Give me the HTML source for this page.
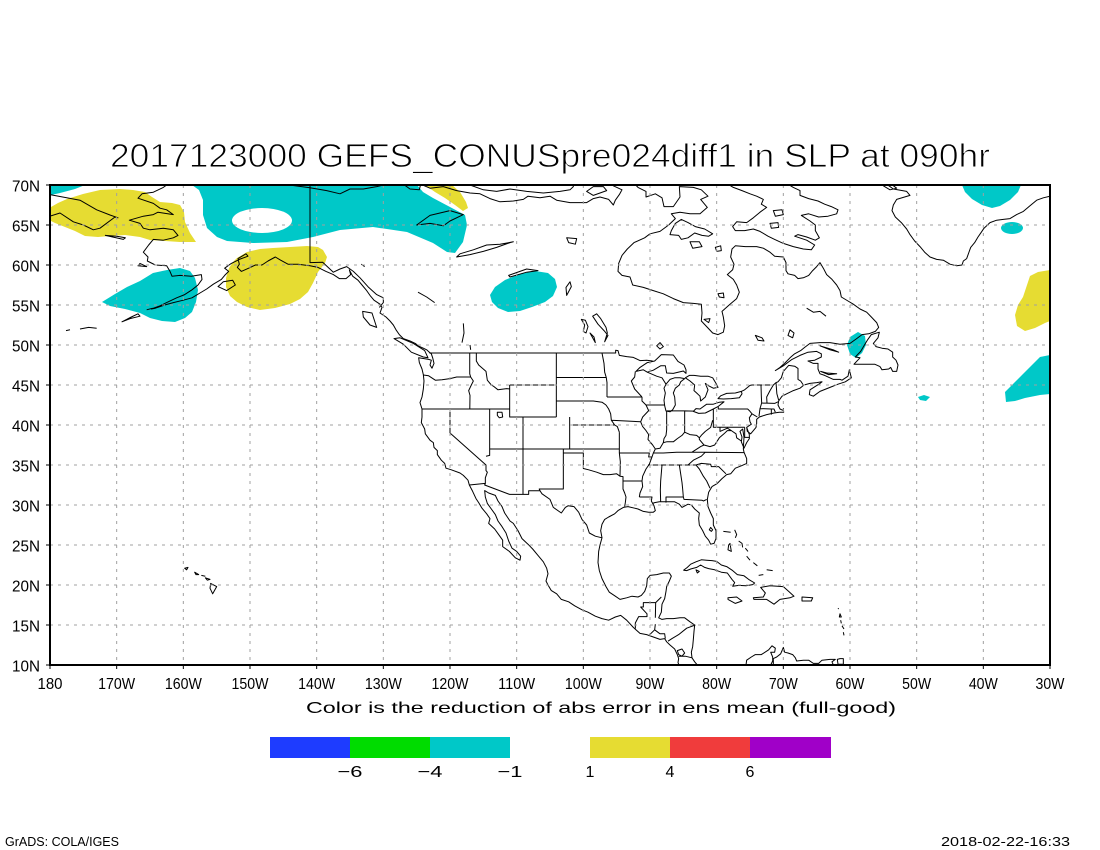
<!DOCTYPE html>
<html><head><meta charset="utf-8"><style>
html,body{margin:0;padding:0;background:#fff;}
svg{display:block;}
.m path{vector-effect:non-scaling-stroke;}
text{font-family:"Liberation Sans",sans-serif;fill:#000;}
</style></head><body>
<svg width="1100" height="850" viewBox="0 0 1100 850" xmlns="http://www.w3.org/2000/svg">
<defs><clipPath id="c"><rect x="50" y="185" width="1000" height="480"/></clipPath></defs>
<rect x="0" y="0" width="1100" height="850" fill="#fff"/>
<text x="110" y="167" font-size="33" textLength="880" lengthAdjust="spacingAndGlyphs" stroke="#fff" stroke-width="0.9">2017123000 GEFS_CONUSpre024diff1 in SLP at 090hr</text>
<g clip-path="url(#c)">
<g fill="#00c8c8">
<polygon points="51,185 85,185 75,189 60,193 51,195"/>
<polygon points="192,185 417,185 423,192 433,198 450,207 465,215 467,225 463,242 455,253 447,252 433,243 407,232 373,227 340,230 313,237 287,242 253,243 227,241 217,237 207,228 203,215 203,200 199,190"/>
<polygon points="102,302 115,294 127,287 140,281 153,273 167,270 180,268 190,271 195,278 198,290 196,302 192,312 185,318 175,322 162,321 150,318 140,313 125,309 110,306"/>
<polygon points="490,295 495,287 505,280 520,274 535,271 548,273 555,279 557,287 553,296 545,302 532,307 520,311 508,312 498,308 492,302"/>
<polygon points="962,185 1021,185 1018,192 1010,200 1000,206 992,208 982,205 972,199 965,192"/>
<ellipse cx="1012" cy="228" rx="11" ry="6"/>
<polygon points="1050,355 1040,357 1032,365 1022,375 1012,385 1005,392 1006,402 1015,401 1025,398 1040,395 1050,394"/>
<polygon points="858,332 865,336 866,345 862,353 856,358 850,354 847,345 850,337"/>
<polygon points="918,397 924,395 930,397 926,401 920,400"/>
</g>
<ellipse cx="262" cy="220.5" rx="30" ry="12.5" fill="#fff"/>
<g fill="#e6dc32">
<polygon points="51,207 58,203 67,199 83,194 100,190 120,189 133,190 145,192 152,197 160,202 172,203 180,205 184,212 185,222 190,233 196,242 180,242 165,241 150,240 140,237 125,235 110,236 98,237 85,236 75,231 65,227 55,223 51,221"/>
<polygon points="425,185 452,185 460,192 466,202 468,208 463,211 455,205 445,198 435,192"/>
<polygon points="237,258 247,252 260,249 273,248 290,247 307,246 318,247 323,250 327,257 325,263 318,272 313,283 308,292 300,299 290,304 275,308 260,310 247,307 237,302 230,296 226,287 226,278 229,268 233,262"/>
<polygon points="1050,270 1038,272 1030,276 1027,285 1023,297 1018,305 1015,315 1017,326 1025,331 1035,328 1045,323 1050,321"/>
</g>
<g class="m" transform="matrix(6.66667 0 0 -8 1250 745)" fill="none" stroke="#000" stroke-width="1" stroke-linejoin="round">
<path d="M-180 68.8 L-179.7 68.75 L-177.5 68.4 L-175.5 68.1 L-173 66.9 L-171 66.25 L-169.8 65.9 L-170.25 66 L-172.5 64.6 L-173.5 64.4 L-175 65 L-176.5 65.4 L-178.5 66.5 L-180 66.1"/>
<path d="M-171.7 63.7 L-169 63.2 L-168.7 63.4 L-170 63.6 Z M-166.5 60.2 L-165.5 59.8 L-166.8 59.9 Z"/>
<path d="M-162 70.3 L-163 69.7 L-164.5 69.1 L-166.2 68.9 L-166.8 68.35 L-164.5 67.7 L-163.5 67.1 L-162.5 66.9 L-161.5 66.3 L-163.8 66.6 L-164.5 66.3 L-166 66.1 L-168.1 65.6 L-166.5 65.2 L-166 64.6 L-165 64.4 L-163 64.6 L-161.5 64.4 L-160.8 63.7 L-161.5 63.4 L-163 63.1 L-164.5 63.2 L-165.2 62.5 L-166 61.6 L-165.3 61 L-165.4 60.5 L-164.2 60 L-162.5 59.9 L-162 59.2 L-161.7 58.6 L-160.5 58.7 L-158.8 58.6 L-157.3 58.8 L-157.2 58.2 L-157.8 57.5 L-158.7 56.9 L-159.8 56.3 L-161 55.9 L-162.5 55.3 L-163.5 54.9 L-164.8 54.5 L-164.2 54.6 L-162.8 55 L-161.5 55.3 L-160 55.6 L-158.7 55.9 L-157.5 56.5 L-156.5 57 L-155.5 57.6 L-154.3 58.2 L-153.8 58.7 L-153.2 59.2 L-153.8 59.6 L-152.8 60.2 L-151.6 60.7 L-150.3 61.1 L-150.6 61.4 L-151.8 60.8 L-151.6 60.1 L-151.9 59.7 L-151.3 59.2 L-150.2 59.6 L-149.2 60 L-148.2 60 L-147.3 60.5 L-146.2 61 L-145.4 60.6 L-144.3 60.1 L-142.8 60.1 L-141 59.9 L-139.8 59.7 L-138.6 59.2 L-137.5 58.8 L-136.6 58.3 L-135.6 58.3 L-134.9 58.8 L-135.1 59.4 L-134.6 58.6 L-133.8 58.1 L-133.2 57.5 L-132.5 56.8 L-132 56.2 L-131.4 55.6 L-130.5 55.1 L-130.2 54.7 L-130.5 54 L-129.6 53.5 L-129 53 L-128.5 52.5 L-128.1 51.9 L-127.6 51.3 L-127 50.8 L-126 50.5 L-125.2 50.2 L-124.8 49.9 L-124 49.6 L-123.5 49.4 L-123.1 49.1 L-122.8 48.9 L-122.6 48.4 L-122.4 47.7 L-122.7 47.1 L-123 47.5 L-122.8 48.1 L-123.2 48.2 L-124.7 48.4 L-124.6 47.8 L-124.2 47 L-124 46.3 L-123.9 45.5 L-124 44.5 L-124.2 43.5 L-124.5 42.8 L-124.2 42 L-124.2 41 L-124.3 40.3 L-123.8 39.5 L-123.7 38.9 L-123 38.1 L-122.5 37.8 L-122.4 37.2 L-121.9 36.8 L-121.9 36.3 L-121.3 35.6 L-120.8 35.2 L-120.6 34.6 L-119.8 34.4 L-118.5 34 L-118 33.7 L-117.3 33.1 L-117.1 32.5 L-116.6 31.7 L-116.1 30.8 L-115.7 30.3 L-115.2 29.6 L-114.5 28.9 L-114 28.3 L-114.2 27.7 L-113.3 27 L-112.7 26.3 L-112.1 25.6 L-112.1 24.8 L-111.1 24.2 L-110.2 23.4 L-109.5 23.1 L-109.4 23.6 L-110 24.2 L-110.7 24.6 L-111.2 25.5 L-111.6 26.5 L-112.2 27.3 L-112.8 28 L-113.2 28.8 L-113.8 29.5 L-114.4 30.2 L-114.7 31 L-114.8 31.8 L-114.2 31.5 L-113.2 31.2 L-112.8 30.5 L-112.2 29.8 L-111.8 29 L-111 28 L-110.5 27.7 L-109.8 26.8 L-109.2 25.8 L-108.3 25.1 L-107.6 24.5 L-106.8 23.7 L-106 22.9 L-105.5 22.1 L-105.3 21.4 L-105.6 20.5 L-105.3 20 L-104.8 19.3 L-104 18.9 L-103.3 18.2 L-102.2 17.9 L-101.3 17.4 L-100.2 16.9 L-99.3 16.6 L-98.2 16.1 L-97.2 15.8 L-96.2 15.6 L-95.2 16 L-94.4 16.2 L-93.5 15.6 L-92.5 14.7 L-91.5 13.95 L-90.5 13.8 L-89.5 13.5 L-88.5 13.2 L-87.8 13.3 L-87.5 12.9 L-87 12.5 L-86.3 12 L-85.9 11.3 L-85.7 10.8 L-85.8 10.3 L-85.6 9.9"/>
<path d="M-128.4 50.8 L-127 50.1 L-125.8 49.1 L-124 48.5 L-123.3 48.4 L-123.8 49.3 L-125.5 50.2 L-127.5 50.9 Z M-133.1 54.2 L-131.7 54 L-131 52.2 L-132 52.5 L-133 53.5 Z M-154.8 57.3 L-153.5 56.8 L-152.2 57.5 L-152.6 58.1 L-154 57.9 Z"/>
<path d="M-169.2 52.9 L-168 53.3 L-166.5 53.6 L-166.8 53.9 L-167.8 53.5 Z M-165.5 54.4 L-164.6 54.6 M-175.5 52 L-174.2 52.2 L-173 52.1 M-177.6 51.8 L-177 51.9"/>
<path d="M-152 71 L-148 70.3 L-145 70.1 L-141 69.65 L-138.5 69.3 L-136.5 68.9 L-135 69.5 L-133 69.5 L-131 69.8 L-129.5 70.1 L-128 70.3 L-127 70.1 L-126 69.5 L-124.6 69.4 L-124.4 70.1 L-123 69.6 L-121 69.8 L-119 69.3 L-117 69 L-115.5 68.9 L-114 68.3 L-112.5 67.9 L-110.5 68 L-109 68.2 L-108.3 68.6 L-106.5 68.4 L-105 68.6 L-104 68.1 L-102 67.8 L-99.5 67.8 L-98.5 68.3 L-97.5 68.5 L-96.2 68.2 L-95.5 67.5 L-95.2 68.1 L-94.6 68.8 L-94.2 69.4 L-95.5 69.9 L-96 70.3"/>
<path d="M-118.5 70.5 L-117 70 L-115 69.4 L-113 69.2 L-111 69.5 L-108.5 69.2 L-106 69 L-103.5 69.2 L-102 69.4 L-101.5 69.8 L-101.5 70.3 M-98.5 68.7 L-96.5 69.3 L-97 69.8 L-98.5 69.8 L-99.5 69.2 Z"/>
<path d="M-92.5 70.3 L-91.8 69.7 L-90.6 69.2 L-90.6 68.5 L-89.2 68.9 L-88.2 68.4 L-87.9 67.3 L-86.5 67.3 L-85.5 68.5 L-85.6 69.8 L-83.5 69.7 L-82.3 69.4 L-81.3 68.6 L-82.4 68.2 L-81.4 67.2 L-82.5 66.4 L-84 66.4 L-85.5 66.6 L-86.8 66.4 L-86.2 65.8 L-87.2 65 L-88.5 64.2 L-90 63.9 L-90.8 63.4 L-92.4 62.8 L-93.4 62 L-94.2 61.2 L-94.7 60.2 L-94.8 59.2 L-94.2 58.7 L-93 58.5 L-92.6 57.5 L-91 57.2 L-89.5 56.8 L-88 56.4 L-86.5 55.8 L-85 55.3 L-83.5 55.2 L-82.3 55.1 L-82.2 54 L-82.3 53 L-81.5 52.3 L-80.6 51.5 L-79.8 51.3 L-79 51.6 L-78.8 52.4 L-79 53.5 L-79.2 54.2 L-78 55.1 L-77 55.8 L-76.6 56.6 L-77 57.5 L-77.5 58.2 L-78.4 58.8 L-77.6 59.4 L-77.4 60.1 L-77.9 61 L-77.7 62 L-77.2 62.4 L-75.7 62.3 L-74 62.3 L-73 62.1 L-72 61.6 L-71.3 61.1 L-70 61 L-69.6 60.3 L-69.6 59.3 L-69.3 58.9 L-68.3 58.7 L-67.8 58.3 L-67 58.4 L-66.2 58.7 L-65.6 59.3 L-65 59.8 L-64.5 60.3 L-64 59.6 L-63.5 58.8 L-62.7 58.2 L-62 57.5 L-61.5 56.8 L-61.3 56 L-60.3 55.5 L-59.5 55.1 L-58.5 54.5 L-57.5 54.1 L-56.8 53.5 L-56 52.8 L-55.7 52.2 L-56.2 51.7 L-57.2 51.4 L-58.2 51.3 L-59 50.8 L-60 50.2 L-61.5 50.1 L-63 50.3 L-64.5 50.3 L-66 50.2 L-66.8 49.7 L-67.4 49.3 L-68.3 48.9 L-69 48.4 L-69.7 47.8 L-70.5 47.2 L-71.2 46.8 L-70 47.4 L-68.7 48.2 L-67.5 48.7 L-66.3 49.1 L-65 49.2 L-64.3 48.9 L-64.3 48.5 L-65.3 48.1 L-66.3 48 L-65.5 47.7 L-64.8 47.7 L-64.8 47 L-64.5 46.4 L-63.8 46.2 L-62.5 45.7 L-61.5 45.7 L-61.2 45.6 L-60.3 46.1 L-60.1 46.9 L-59.8 45.9 L-60.7 45.4 L-61.8 45.1 L-63 44.7 L-64.5 44.2 L-65.5 43.6 L-66.1 43.8 L-66 44.4 L-64.5 45.2 L-64.2 45.4 L-65 45.3 L-66 45.2 L-66.9 45 L-67.5 44.6 L-68.5 44.3 L-69.5 43.9 L-70.2 43.6 L-70.7 43 L-70.8 42.5 L-70.5 42 L-70 41.8 L-70 42.05 L-69.95 41.6 L-70.6 41.6 L-71.4 41.5 L-72.5 41.3 L-73.6 41 L-74 40.7 L-74 40.2 L-74.1 39.7 L-74.6 39.2 L-74.9 38.9 L-75.4 39.2 L-75.5 39.7 L-75.1 38.8 L-75.1 38.3 L-75.5 37.8 L-75.9 37.1 L-76.3 37.9 L-76.2 38.5 L-76.5 39.2 L-76.1 39.5 L-75.9 38.5 L-76 37 L-75.9 36.6 L-75.5 35.8 L-75.5 35.2 L-76.3 34.9 L-77.2 34.6 L-77.9 33.9 L-78.5 33.8 L-79.2 33.3 L-79.9 32.7 L-80.7 32.3 L-81.2 31.6 L-81.4 30.7 L-81.3 29.8 L-80.9 29 L-80.5 28.3 L-80.5 27.5 L-80.1 26.8 L-80.1 25.8 L-80.4 25.2 L-80.9 25.1 L-81.2 25.6 L-81.7 26.1 L-82.1 26.8 L-82.6 27.5 L-82.7 28.3 L-82.6 29 L-83.3 29.5 L-83.8 30 L-84.3 30.1 L-85.2 29.7 L-85.6 30.1 L-86.3 30.4 L-87.2 30.4 L-88 30.4 L-88.6 30.4 L-89.3 30.3 L-89.6 30.2 L-89.4 29.9 L-89.2 29.3 L-89.5 29.1 L-90.2 29.1 L-91 29.2 L-91.8 29.5 L-92.3 29.6 L-93.3 29.8 L-94 29.7 L-94.8 29.3 L-95.3 28.9 L-96.2 28.5 L-96.8 28.2 L-97.2 27.6 L-97.4 26.8 L-97.2 25.9 L-97.5 25 L-97.7 24.2 L-97.8 22.8 L-97.6 21.8 L-97.2 20.8 L-96.6 19.8 L-96.1 19.1 L-95.2 18.6 L-94.5 18.2 L-93.5 18.4 L-92.7 18.6 L-91.8 18.5 L-91.3 18.7 L-90.8 19.2 L-90.5 19.9 L-90.4 20.8 L-90 21.2 L-89 21.3 L-88 21.5 L-87.1 21.5 L-86.8 21.1 L-87.1 20.5 L-87.5 19.8 L-87.6 19.2 L-87.8 18.3 L-88.2 17.6 L-88.3 16.6 L-88.7 15.9 L-88.2 15.7 L-87.5 15.8 L-86.5 15.8 L-85.5 15.9 L-84.8 15.9 L-84 15.4 L-83.3 15 L-83.4 14.2 L-83.5 13.2 L-83.6 12.3 L-83.8 11.6 L-83.7 10.9 L-83.3 10.4 L-82.9 10"/>
<path d="M-78.5 70.2 L-77.5 69.7 L-76.2 69.3 L-75 68.9 L-74 68.6 L-73 68.2 L-73.3 67.6 L-72.5 67.2 L-73.5 66.6 L-74.5 65.9 L-75.5 65.3 L-77 65.4 L-77.6 64.8 L-77.2 64.3 L-75.8 64.3 L-74.5 64.5 L-73.5 64.2 L-72.3 63.6 L-71.3 63.2 L-70 62.7 L-68.5 62.3 L-67 62 L-65.8 61.9 L-65.3 62.5 L-66.5 63.1 L-68.3 63.6 L-67.8 63.8 L-66.5 63.5 L-65.2 63.1 L-64.6 63.4 L-65.2 64.3 L-65.2 65 L-66 65.5 L-67.3 66.2 L-66.2 66.4 L-64.7 66 L-63.3 66.1 L-62 66.4 L-61.8 66.9 L-62.8 67.3 L-63.8 67.6 L-64.8 68 L-66.2 68.3 L-67.5 68.7 L-67.5 69.3 L-68.5 69.7 L-69.5 70.2"/>
<path d="M-86.8 64.3 L-86.2 65.2 L-85.3 65.7 L-84.3 65.3 L-83.2 64.8 L-81.8 64.5 L-80.6 63.9 L-81.2 63.6 L-82.2 63.7 L-83.3 64 L-84.3 63.4 L-85.3 63.2 L-85.7 63.7 L-87 63.8 Z M-84 62.9 L-82.6 62.9 L-82.2 62.3 L-83.6 62.1 Z M-80.2 62.2 L-79.4 62.4 L-79.3 61.8 L-80 61.7 Z M-79.8 56.4 L-79 56.5 L-78.9 55.9 L-79.6 56 Z M-81.9 53.2 L-81 53.3 L-81.2 52.8 Z"/>
<path d="M-71.5 66.8 L-70.2 66.9 L-70 66.3 L-71.2 66.1 Z M-72 65.2 L-70.8 65.3 L-70.7 64.7 L-71.8 64.6 Z M-102.5 63.4 L-101 63.3 L-101.2 62.6 L-102.2 62.8 Z"/>
<path d="M-59.4 47.6 L-58.5 48.4 L-59.2 48.5 L-58.4 49.2 L-57.9 49.9 L-57.4 50.6 L-56.8 51.3 L-55.6 51.6 L-55.8 50.9 L-56.5 50.2 L-56.1 49.8 L-55.2 49.6 L-54.3 49.5 L-53.6 49.1 L-53.6 48.5 L-53.1 48.1 L-52.8 47.5 L-53 46.7 L-53.6 46.7 L-53.9 47.2 L-54.2 47 L-55.2 46.9 L-55.5 47.3 L-56.3 47.6 L-57.5 47.6 L-58.5 47.6 Z M-64.5 49.9 L-63 49.4 L-61.7 49.1 L-62.5 49.4 Z M-64.4 46.7 L-63.2 46.3 L-62 46.4 L-63.5 46.5 Z"/>
<path d="M-54.5 70.1 L-53.5 69.5 L-51.5 69.2 L-51 68.7 L-53 68.2 L-53.5 67.5 L-53.7 66.8 L-53.2 66 L-52.3 65.3 L-51.5 64.5 L-51 63.8 L-50.3 63 L-49.5 62.3 L-48.8 61.6 L-48 61 L-47 60.7 L-46 60.6 L-45 60.1 L-44 59.9 L-43.2 60 L-43 60.5 L-42.5 60.8 L-42.2 61.5 L-41.9 62.2 L-41.3 62.8 L-40.8 63.5 L-40.3 64.1 L-39.9 64.6 L-39 65.3 L-38 65.6 L-37 65.7 L-36 65.8 L-35 66.3 L-34 66.7 L-33 67.4 L-32 68.1 L-31 68.4 L-30 68.6 M-55 69.9 L-54 69.4 L-53 69.6 L-53.8 70.1"/>
<path d="M-119 61 L-117 61.3 L-115 61.7 L-113 62.2 L-111 62.8 L-110.5 62.9 L-112.5 62.6 L-114.5 62.5 L-116.5 61.9 L-118.5 61.4 Z M-125 65 L-123 66.2 L-120 66.8 L-118 66.3 L-120 65.5 L-121 64.9 L-123 65.2 Z M-111.2 58.7 L-108.5 59.5 L-106.8 59.3 L-108.5 59.1 L-111 58.5 Z M-96.8 50.4 L-96.3 51.2 L-96.9 51.8 L-97.8 52.6 L-98.6 53.6 L-98 53.9 L-97.4 53.3 L-96.6 52.2 L-96.4 51.5 Z M-100.3 53.2 L-99.8 52.5 L-100 51.7 L-99.6 51.5 L-99.3 52.3 L-99.7 53.1 Z M-99 51.5 L-98.2 50.3 L-98.4 51 Z M-102.5 56.2 L-101.8 57.3 L-102 57.9 L-102.6 57.2 Z M-88.5 49.5 L-88 49.8 L-88.5 50.3 L-89 49.9 Z M-74.2 51.2 L-73.2 50.9 L-72.9 50.5 L-73.8 50.6 Z M-69 51.9 L-68.4 51.5 L-68.6 50.9 L-69.3 51.2 Z M-66.5 54.6 L-65.5 54.1 L-64.5 54.2 L-63.6 53.6 M-124.8 56.6 L-123.5 56 L-122.3 55.3 M-118 52.7 L-117.9 51.5 L-118.2 50.3 M-117 50 L-116.9 49.4 M-133.3 60.1 L-132.8 59.8"/>
<path d="M-92.1 46.7 L-91 46.9 L-90.4 46.6 L-89.5 46.85 L-88.4 47.4 L-87.7 47.4 L-87.5 46.5 L-86.5 46.45 L-85 46.75 L-84.6 46.45 L-84.6 46.9 L-84.9 47.5 L-85.8 47.95 L-86.5 48.75 L-88.3 48.8 L-89.3 48 L-90.4 47.8 L-91.5 47.2 Z"/>
<path d="M-84.8 45.8 L-85.5 45.9 L-86.3 45.9 L-87 45.7 L-87.6 45.1 L-87.9 44.6 L-87.7 44 L-87.9 43.1 L-87.8 42.4 L-87.6 41.75 L-87 41.65 L-86.6 41.9 L-86.2 42.5 L-86.3 43.5 L-86.5 44 L-86.2 44.6 L-85.6 45 L-85.4 45.4 Z"/>
<path d="M-84.7 45.9 L-84.1 46.2 L-83.4 46.2 L-82.4 46.1 L-81.3 46.1 L-80.6 45.9 L-80.1 45.2 L-79.8 44.7 L-80.5 44.6 L-81.2 44.9 L-81.7 45.2 L-81.3 44.4 L-81.7 43.5 L-82.4 43 L-82.5 43.6 L-83 44 L-83.4 44.3 L-83.3 45 L-84 45.5 Z"/>
<path d="M-83.5 41.7 L-82.7 41.45 L-81.7 41.5 L-80.5 42 L-79.8 42.3 L-78.9 42.9 L-79.6 42.85 L-80.5 42.6 L-81.5 42.6 L-82.5 42 L-83.1 42.05 Z M-79.8 43.3 L-79 43.25 L-77.8 43.3 L-76.6 43.4 L-76.2 43.9 L-76.3 44.2 L-77.2 44 L-78.5 43.95 L-79.4 43.65 Z M-112.9 41.6 L-112.2 41.6 L-112.1 41 L-112.6 40.9 L-112.9 41.2 Z M-80.9 27.2 L-80.6 26.9 L-80.8 26.7 L-81.1 26.9 Z"/>
<path d="M-141 70 L-141 60.3 L-139.1 60.35 L-137.5 59.1 L-136.5 59.5 L-135.5 59.8 L-134.5 59.2 L-133.5 58.4 L-132.2 57.2 L-131 56.3 L-130 55.9 L-130 55.3 L-130.6 54.7"/>
<path d="M-123.1 49 L-95.15 49 L-95.15 49.35 L-94.8 49.3 L-94.6 48.7 L-93.5 48.55 L-92.5 48.45 L-91.5 48.05 L-90.5 48.1 L-89.6 48 M-76.3 44.2 L-75.8 44.4 L-75 44.95 L-74.7 45 L-71.5 45 L-71.1 45.3 L-70.8 45.4 L-70.3 45.9 L-70 46.7 L-69.2 47.45 L-68.3 47.35 L-67.8 47.07 L-67.8 45.7 L-67.4 45.5 L-67 45"/>
<path d="M-117.1 32.5 L-114.7 32.7 L-114.8 32.5 L-111.07 31.33 L-108.2 31.33 L-108.2 31.78 L-106.5 31.78 L-106.2 31.4 L-105 30.7 L-104.5 29.7 L-103.3 29 L-102.7 29.7 L-102.3 29.9 L-101.4 29.8 L-100.7 29.1 L-100.2 28.2 L-99.5 27.5 L-99.1 26.5 L-98.2 26.1 L-97.2 25.9"/>
<path d="M-92.2 14.55 L-92.2 15.25 L-91.7 16.05 L-90.45 16.05 L-90.45 16.4 L-91.4 17.25 L-91 17.25 L-91 17.8 L-89.15 17.8 L-88.3 18.5 M-89.15 17.8 L-89.2 15.9 M-89.2 15.1 L-89.3 14.4 L-90.1 13.75 M-89.3 14.4 L-88.5 13.9 L-87.8 13.9 L-87.7 13.3 M-83.2 15 L-84.5 14.6 L-85.7 13.8 L-86.7 13.3 L-87.3 12.98 M-85.7 11.1 L-84.7 11.1 L-83.7 10.9 M-85.9 11.8 L-85.2 12 L-84.8 11.5 L-85.2 11.1 L-85.7 11.3 Z"/>
<path d="M-124 46.25 L-123.2 46.15 L-122.2 45.6 L-121.2 45.65 L-120 45.8 L-119 46 L-116.9 46 M-117.04 49 L-117.04 46.4 L-116.9 46 M-116.9 46 L-116.5 45.5 L-116.8 45 L-117.2 44.3 L-117 43.7 L-117.03 42 M-124.2 42 L-111.05 42 M-116.05 49 L-116.05 48 L-115.7 47.5 L-114.6 46.7 L-114.4 45.6 L-113.8 45 L-113.4 44.8 L-112.8 44.4 L-111.5 44.55 L-111.05 44.5 M-111.05 45 L-111.05 41 L-104.05 41 M-111.05 45 L-104.05 45 M-104.05 49 L-104.05 41 M-104.05 45.94 L-96.56 45.94 M-104.05 43 L-98.5 43 L-97.2 42.85 L-96.6 42.5 M-97.2 49 L-96.9 47.7 L-96.8 46.6 L-96.56 45.94 L-96.45 45.3 L-96.45 43.5 M-102.05 41 L-102.05 40 L-95.3 40 M-109.05 41 L-109.05 37 L-102.05 37 L-102.05 40 M-114.05 42 L-114.05 36.2 L-114.6 36.1 M-120 42 L-120 39 L-114.6 35 L-114.6 34.3 L-114.4 34.1 L-114.7 33.4 L-114.7 32.7 M-114.05 37 L-103 37 M-109.05 37 L-109.05 31.33 M-103 37 L-103 32 L-106.62 32 L-106.5 31.78 M-103 36.5 L-100 36.5 L-100 34.56 L-99.2 34.4 L-98 34.1 L-97 33.8 L-96 33.8 L-95 33.9 L-94.5 33.6 M-94.6 39.1 L-94.6 36.5 L-94.45 35.4 L-94.5 33.6 L-94.05 33.55 L-94.05 33 L-94.05 32 L-93.8 31.5 L-93.6 31 L-93.7 30.3 L-93.8 29.8 M-95.3 40 L-94.9 39.8 L-94.6 39.1 M-102.05 37 L-94.6 37 M-96.6 42.5 L-96.2 42 L-95.9 41.4 L-95.8 40.6 L-95.3 40 M-96.45 43.5 L-91.2 43.5 M-91.2 43.5 L-91.2 43 L-90.6 42.5 L-90.2 41.8 L-91.1 41 L-91.4 40.4 L-91.1 39.8 L-90.6 39.3 L-90.2 38.8 L-90.3 38.2 L-89.6 37.5 L-89.2 37 L-89.5 36.5 L-89.7 36 L-90.1 35.1 L-90.6 34.5 L-91.1 33.6 L-91.2 33 L-91.1 32.3 L-91.5 31.5 L-91.6 31 M-95.8 40.6 L-91.4 40.4 M-94.6 36.5 L-90.1 36.5 L-90.2 36 L-89.7 36 M-89.5 36.5 L-88 36.5 L-86 36.6 L-83.7 36.6 L-81.7 36.6 L-75.9 36.55 M-91.6 31 L-89.7 31 L-89.8 30.5 L-89.6 30.2 M-94.05 33 L-91.2 33 M-88.2 35 L-88.4 33 L-88.45 31.9 L-88.4 30.4 M-90.3 35 L-84.3 35 L-83.1 35 M-85.6 35 L-85.2 32.8 L-85.1 32 L-85 31 M-87.6 30.3 L-87.6 31 L-85 31 L-84.9 30.7 L-82.2 30.6 L-82 30.5 L-81.5 30.7 M-81.7 36.6 L-82.3 36.1 L-83.5 35.6 L-84.3 35 M-83.1 35 L-82.3 35.2 L-80.9 35.1 L-80.8 34.8 L-79.7 34.8 L-78.6 33.9 M-83.1 35 L-82.6 34.5 L-82 33.6 L-81.5 33 L-81 32.1 M-89.2 37 L-88.5 37.1 L-88 37.8 L-87.5 37.9 L-86.5 37.9 L-85.9 38.3 L-85.2 38.7 L-84.8 39.1 L-84 38.8 L-83 38.7 L-82.6 38.4 L-82.2 38.8 L-81.7 39.2 L-80.9 39.7 L-80.6 40.6 M-83.7 36.6 L-82.4 37.3 L-81.9 37.5 L-82.6 38.2 L-82.6 38.4 M-81.9 37.5 L-81 37.3 L-80.3 37.5 L-79.6 38.4 L-78.9 38.9 L-78.4 39.3 L-77.8 39.3 M-80.5 40.6 L-80.5 39.72 L-75.8 39.72 M-79.5 39.72 L-79.5 39.2 L-78.4 39.6 L-77.8 39.3 L-77.1 38.9 L-77 38.4 L-76.3 38 M-80.5 42 L-80.5 40.6 M-87.5 41.7 L-87.5 39.4 L-87.6 38.7 L-87.9 38.3 L-88 37.8 M-84.8 41.7 L-84.8 39.1 M-87.5 41.76 L-84.8 41.76 L-83.5 41.73 M-90.6 42.5 L-87.8 42.5 M-92.2 46.7 L-92.3 46 L-92.8 45.5 L-92.3 44.5 L-91.2 43.5 M-90.4 46.6 L-89 46.1 L-88.2 45.9 L-87.6 45.1 M-79.76 42.27 L-79.76 42 L-75.35 42 L-75.1 41.8 L-74.7 41.4 L-73.9 41 M-74.7 41.4 L-75.1 40.9 L-75 40.4 L-74.8 40.1 L-75.5 39.7 M-75.8 39.72 L-75.8 38.45 L-75.05 38.45 M-73.35 45 L-73.3 43.6 L-73.25 42.75 L-73.5 42.05 L-73.65 41.1 M-71.5 45 L-72 44.3 L-72.5 43.5 L-72.45 42.73 M-73.25 42.75 L-71.3 42.7 L-70.8 42.9 M-71.1 45.3 L-70.97 43.9 L-70.7 43.1 M-73.5 42.05 L-71.8 42 L-71.4 42 L-71.2 41.6 M-71.8 42 L-71.8 41.3"/>
<path d="M-84.95 21.85 L-84.4 22.2 L-83.9 22.6 L-83.1 22.9 L-82.3 23.15 L-81.5 23.1 L-80.7 23.05 L-80 22.95 L-79.3 22.5 L-78.5 22.3 L-77.6 21.8 L-76.9 21.3 L-75.9 21.15 L-75.2 20.7 L-74.3 20.25 L-74.6 20.05 L-75.6 19.9 L-76.7 19.95 L-77.6 19.85 L-77.3 20.3 L-77.7 20.7 L-78.4 21.5 L-79.3 21.6 L-80.3 21.9 L-81.2 22.05 L-81.8 22.2 L-82.4 22.5 L-83 22.2 L-83.9 22 L-84.5 21.8 Z M-83.1 21.9 L-82.6 21.7 L-82.9 21.5 Z"/>
<path d="M-74.5 18.4 L-73 18.5 L-72.7 19 L-73.4 19.7 L-72 19.9 L-70 19.8 L-69.2 19.2 L-68.4 18.6 L-69 18.4 L-70.5 18.2 L-71.4 17.6 L-72.5 18.2 L-74.4 18.2 Z M-78.3 18.4 L-77 18.5 L-76.2 18 L-77.2 17.7 L-78.3 18.2 Z M-67.2 18.5 L-65.6 18.4 L-65.8 18 L-67.2 18 Z"/>
<path d="M-79 26.7 L-77.9 26.6 M-77.3 26.9 L-77 26.3 L-77.2 25.9 M-78 25.2 L-77.8 24.2 L-78.3 24.4 L-78.2 25 Z M-76.7 25.5 L-76.2 25.2 L-76.1 24.7 M-75.7 24.6 L-75.3 24.2 M-75.5 23.6 L-75 23.1 M-74.5 22.8 L-73.9 22.4 M-73.7 21.2 L-73 21.3 M-72.5 21.9 L-71.6 21.8"/>
<path d="M-61.8 17.1 L-61.7 17 M-61.5 16.4 L-61.3 16 L-61.6 16 Z M-61.4 15.6 L-61.3 15.2 M-61.2 14.9 L-60.9 14.5 M-61 14.1 L-60.9 13.7"/>
<path d="M-75.6 10 L-75.5 10.6 L-74.8 11 L-74.2 11.3 L-73.3 11.3 L-72.2 11.9 L-71.7 12.4 L-71.2 12.1 L-71.3 11.6 L-71.9 11.6 L-71.6 11 L-71.6 10.5 L-71.9 10 M-71.5 10 L-71.5 10.8 L-71 11 L-70.4 11.4 L-70 12.2 L-69.8 11.6 L-69.3 11.5 L-68.6 11.3 L-68.2 10.9 L-68 10.5 L-67 10.6 L-66.2 10.6 L-65.5 10.2 L-64.7 10.2 L-64.2 10.6 L-63 10.7 L-62.2 10.7 L-62.7 10.4 L-62.5 10 M-61.9 10.7 L-61.5 10.8 L-61 10.8 L-61 10.1 L-61.8 10.1 Z"/>
<path d="M-155.9 20.2 L-155 19.8 L-155.6 18.9 L-156 19.6 Z M-156.7 20.9 L-156 20.7 L-156.4 20.6 Z M-158.3 21.6 L-157.7 21.3 L-158.1 21.3 Z M-159.8 22.1 L-159.3 22.2 L-159.5 21.9 Z M-157.3 21.2 L-156.7 21.1"/>
</g>
<g stroke="#a0a0a0" stroke-width="1" stroke-dasharray="3 5">
<path d="M50 225H1050M50 265H1050M50 305H1050M50 345H1050M50 385H1050M50 425H1050M50 465H1050M50 505H1050M50 545H1050M50 585H1050M50 625H1050"/>
<path d="M116.67 185V665M183.33 185V665M250 185V665M316.67 185V665M383.33 185V665M450 185V665M516.67 185V665M583.33 185V665M650 185V665M716.67 185V665M783.33 185V665M850 185V665M916.67 185V665M983.33 185V665"/>
</g>
</g>
<rect x="50" y="185" width="1000" height="480" fill="none" stroke="#000" stroke-width="2"/>
<g stroke="#000" stroke-width="1">
<path d="M46 185H50M46 225H50M46 265H50M46 305H50M46 345H50M46 385H50M46 425H50M46 465H50M46 505H50M46 545H50M46 585H50M46 625H50M46 665H50"/>
<path d="M50 665V669M116.67 665V669M183.33 665V669M250 665V669M316.67 665V669M383.33 665V669M450 665V669M516.67 665V669M583.33 665V669M650 665V669M716.67 665V669M783.33 665V669M850 665V669M916.67 665V669M983.33 665V669M1050 665V669"/>
</g>
<g font-size="16" text-anchor="end">
<text x="40" y="191.5" textLength="28" lengthAdjust="spacingAndGlyphs">70N</text>
<text x="40" y="231.5" textLength="28" lengthAdjust="spacingAndGlyphs">65N</text>
<text x="40" y="271.5" textLength="28" lengthAdjust="spacingAndGlyphs">60N</text>
<text x="40" y="311.5" textLength="28" lengthAdjust="spacingAndGlyphs">55N</text>
<text x="40" y="351.5" textLength="28" lengthAdjust="spacingAndGlyphs">50N</text>
<text x="40" y="391.5" textLength="28" lengthAdjust="spacingAndGlyphs">45N</text>
<text x="40" y="431.5" textLength="28" lengthAdjust="spacingAndGlyphs">40N</text>
<text x="40" y="471.5" textLength="28" lengthAdjust="spacingAndGlyphs">35N</text>
<text x="40" y="511.5" textLength="28" lengthAdjust="spacingAndGlyphs">30N</text>
<text x="40" y="551.5" textLength="28" lengthAdjust="spacingAndGlyphs">25N</text>
<text x="40" y="591.5" textLength="28" lengthAdjust="spacingAndGlyphs">20N</text>
<text x="40" y="631.5" textLength="28" lengthAdjust="spacingAndGlyphs">15N</text>
<text x="40" y="671.5" textLength="28" lengthAdjust="spacingAndGlyphs">10N</text>
</g>
<g font-size="16" text-anchor="middle">
<text x="50" y="689" textLength="25" lengthAdjust="spacingAndGlyphs">180</text>
<text x="116.67" y="689" textLength="37" lengthAdjust="spacingAndGlyphs">170W</text>
<text x="183.33" y="689" textLength="37" lengthAdjust="spacingAndGlyphs">160W</text>
<text x="250" y="689" textLength="37" lengthAdjust="spacingAndGlyphs">150W</text>
<text x="316.67" y="689" textLength="37" lengthAdjust="spacingAndGlyphs">140W</text>
<text x="383.33" y="689" textLength="37" lengthAdjust="spacingAndGlyphs">130W</text>
<text x="450" y="689" textLength="37" lengthAdjust="spacingAndGlyphs">120W</text>
<text x="516.67" y="689" textLength="37" lengthAdjust="spacingAndGlyphs">110W</text>
<text x="583.33" y="689" textLength="37" lengthAdjust="spacingAndGlyphs">100W</text>
<text x="650" y="689" textLength="29" lengthAdjust="spacingAndGlyphs">90W</text>
<text x="716.67" y="689" textLength="29" lengthAdjust="spacingAndGlyphs">80W</text>
<text x="783.33" y="689" textLength="29" lengthAdjust="spacingAndGlyphs">70W</text>
<text x="850" y="689" textLength="29" lengthAdjust="spacingAndGlyphs">60W</text>
<text x="916.67" y="689" textLength="29" lengthAdjust="spacingAndGlyphs">50W</text>
<text x="983.33" y="689" textLength="29" lengthAdjust="spacingAndGlyphs">40W</text>
<text x="1050" y="689" textLength="29" lengthAdjust="spacingAndGlyphs">30W</text>
</g>
<text x="306" y="713" font-size="16" textLength="590" lengthAdjust="spacingAndGlyphs">Color is the reduction of abs error in ens mean (full-good)</text>
<rect x="270" y="737" width="80" height="21" fill="#1e3cff"/>
<rect x="350" y="737" width="80" height="21" fill="#00dc00"/>
<rect x="430" y="737" width="80" height="21" fill="#00c8c8"/>
<rect x="590" y="737" width="80" height="21" fill="#e6dc32"/>
<rect x="670" y="737" width="80" height="21" fill="#f03c3c"/>
<rect x="750" y="737" width="81" height="21" fill="#a000c8"/>
<g font-size="16" text-anchor="middle">
<text x="350" y="777" textLength="25" lengthAdjust="spacingAndGlyphs">−6</text>
<text x="430" y="777" textLength="25" lengthAdjust="spacingAndGlyphs">−4</text>
<text x="510" y="777" textLength="25" lengthAdjust="spacingAndGlyphs">−1</text>
<text x="590" y="777">1</text>
<text x="670" y="777">4</text>
<text x="750" y="777">6</text>
</g>
<text x="5" y="846" font-size="13" textLength="114" lengthAdjust="spacingAndGlyphs">GrADS: COLA/IGES</text>
<text x="941" y="846" font-size="13" textLength="129" lengthAdjust="spacingAndGlyphs">2018-02-22-16:33</text>
</svg>
</body></html>
